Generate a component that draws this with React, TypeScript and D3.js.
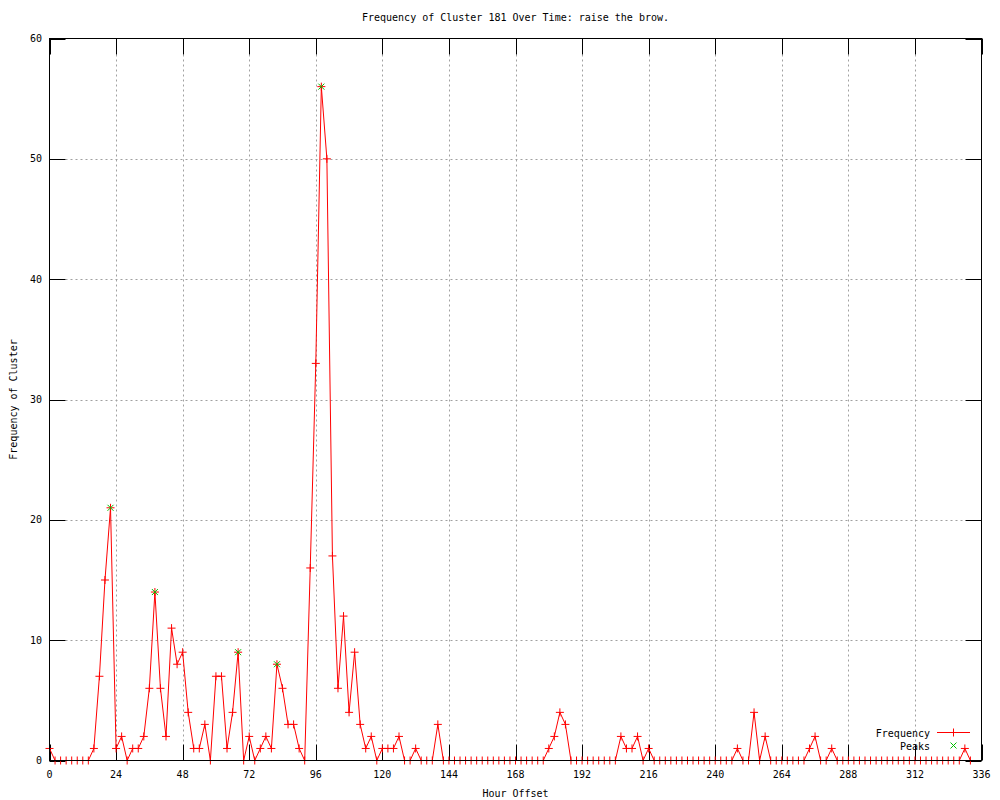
import React from 'react';
import * as d3 from 'd3';

// hour offsets (every 2 hours)
const hours = [
  0, 2, 4, 6, 8, 10, 12, 14, 16, 18, 20, 22, 24, 26, 28, 30, 32, 34, 36, 38,
  40, 42, 44, 46, 48, 50, 52, 54, 56, 58, 60, 62, 64, 66, 68, 70, 72, 74, 76, 78,
  80, 82, 84, 86, 88, 90, 92, 94, 96, 98, 100, 102, 104, 106, 108, 110, 112, 114, 116, 118,
  120, 122, 124, 126, 128, 130, 132, 134, 136, 138, 140, 142, 144, 146, 148, 150, 152, 154, 156, 158,
  160, 162, 164, 166, 168, 170, 172, 174, 176, 178, 180, 182, 184, 186, 188, 190, 192, 194, 196, 198,
  200, 202, 204, 206, 208, 210, 212, 214, 216, 218, 220, 222, 224, 226, 228, 230, 232, 234, 236, 238,
  240, 242, 244, 246, 248, 250, 252, 254, 256, 258, 260, 262, 264, 266, 268, 270, 272, 274, 276, 278,
  280, 282, 284, 286, 288, 290, 292, 294, 296, 298, 300, 302, 304, 306, 308, 310, 312, 314, 316, 318,
  320, 322, 324, 326, 328, 330, 332,
];

const frequency = [
  1, 0, 0, 0, 0, 0, 0, 0, 1, 7, 15, 21, 1, 2, 0, 1, 1, 2, 6, 14,
  6, 2, 11, 8, 9, 4, 1, 1, 3, 0, 7, 7, 1, 4, 9, 0, 2, 0, 1, 2,
  1, 8, 6, 3, 3, 1, 0, 16, 33, 56, 50, 17, 6, 12, 4, 9, 3, 1, 2, 0,
  1, 1, 1, 2, 0, 0, 1, 0, 0, 0, 3, 0, 0, 0, 0, 0, 0, 0, 0, 0,
  0, 0, 0, 0, 0, 0, 0, 0, 0, 0, 1, 2, 4, 3, 0, 0, 0, 0, 0, 0,
  0, 0, 0, 2, 1, 1, 2, 0, 1, 0, 0, 0, 0, 0, 0, 0, 0, 0, 0, 0,
  0, 0, 0, 0, 1, 0, 0, 4, 0, 2, 0, 0, 0, 0, 0, 0, 0, 1, 2, 0,
  0, 1, 0, 0, 0, 0, 0, 0, 0, 0, 0, 0, 0, 0, 0, 0, 0, 0, 0, 0,
  0, 0, 0, 0, 0, 1, 0,
];

const peakHours = [22, 38, 68, 82, 98];
const peakValues = [21, 14, 9, 8, 56];

const xTicks = [0, 24, 48, 72, 96, 120, 144, 168, 192, 216, 240, 264, 288, 312, 336];
const yTicks = [0, 10, 20, 30, 40, 50, 60];

const W = 1000;
const H = 800;
const left = 49.5;
const right = 981.5;
const top = 38.5;
const bottom = 760.5;
const FONT = '"DejaVu Sans Mono", monospace';

export default function App() {
  const x = d3.scaleLinear().domain([0, 336]).range([left, right]);
  const y = d3.scaleLinear().domain([0, 60]).range([bottom, top]);
  const tickLen = 16;

  const pts = hours.map((h, i) => [h, frequency[i]] as [number, number]);
  const line = d3.line<[number, number]>().x(d => x(d[0])).y(d => y(d[1]));

  const plus = (cx: number, cy: number, key: string, color = '#ff0000') => (
    <path key={key} d={`M${cx - 4},${cy}H${cx + 4}M${cx},${cy - 4}V${cy + 4}`} stroke={color} strokeWidth={1} fill="none" />
  );
  const cross = (cx: number, cy: number, key: string) => (
    <path key={key} d={`M${cx - 3},${cy - 3}L${cx + 3},${cy + 3}M${cx - 3},${cy + 3}L${cx + 3},${cy - 3}`} stroke="#00c000" strokeWidth={1} fill="none" />
  );

  return (
    <svg width={W} height={H} style={{ position: 'absolute', left: 0, top: 0, background: '#fff' }} fontFamily={FONT} fontSize={10}>
      <rect x={0} y={0} width={W} height={H} fill="#fff" />

      {/* grid */}
      <g stroke="#a0a0a0" strokeDasharray="2,3" strokeWidth={1}>
        {xTicks.slice(1, -1).map(t => (
          <line key={'gx' + t} x1={Math.round(x(t)) + 0.5} x2={Math.round(x(t)) + 0.5} y1={top + tickLen} y2={bottom - tickLen} />
        ))}
        {yTicks.slice(1, -1).map(t => (
          <line key={'gy' + t} x1={left + tickLen} x2={right - tickLen} y1={Math.round(y(t)) + 0.5} y2={Math.round(y(t)) + 0.5} />
        ))}
      </g>

      {/* ticks */}
      <g stroke="#000" strokeWidth={1}>
        {xTicks.map(t => {
          const px = Math.round(x(t)) + 0.5;
          return (
            <g key={'tx' + t}>
              <line x1={px} x2={px} y1={bottom} y2={bottom - tickLen} />
              <line x1={px} x2={px} y1={top} y2={top + tickLen} />
            </g>
          );
        })}
        {yTicks.map(t => {
          const py = Math.round(y(t)) + 0.5;
          return (
            <g key={'ty' + t}>
              <line x1={left} x2={left + tickLen} y1={py} y2={py} />
              <line x1={right} x2={right - tickLen} y1={py} y2={py} />
            </g>
          );
        })}
      </g>

      {/* tick labels */}
      {xTicks.map(t => (
        <text key={'lx' + t} x={x(t)} y={778} textAnchor="middle" fill="#000">{t}</text>
      ))}
      {yTicks.map(t => (
        <text key={'ly' + t} x={42} y={y(t) + 3.5} textAnchor="end" fill="#000">{t}</text>
      ))}

      {/* data */}
      <path d={line(pts) || ''} fill="none" stroke="#ff0000" strokeWidth={1} />
      {pts.map(([h, v], i) => plus(x(h), y(v), 'p' + i))}
      {peakHours.map((h, i) => cross(x(h), y(peakValues[i]), 'k' + i))}

      {/* border */}
      <rect x={left} y={top} width={right - left} height={bottom - top} fill="none" stroke="#000" strokeWidth={1} />

      {/* titles */}
      <text x={(left + right) / 2} y={21} textAnchor="middle" fill="#000">Frequency of Cluster 181 Over Time: raise the brow.</text>
      <text x={(left + right) / 2} y={797} textAnchor="middle" fill="#000">Hour Offset</text>
      <text transform={`translate(17,${(top + bottom) / 2}) rotate(-90)`} textAnchor="middle" fill="#000">Frequency of Cluster</text>

      {/* legend */}
      <text x={930} y={736.5} textAnchor="end" fill="#000">Frequency</text>
      <line x1={937} x2={970} y1={732.5} y2={732.5} stroke="#ff0000" strokeWidth={1} />
      {plus(953.5, 732.5, 'legp')}
      <text x={930} y={749.5} textAnchor="end" fill="#000">Peaks</text>
      {cross(953.5, 745.5, 'legk')}
    </svg>
  );
}
